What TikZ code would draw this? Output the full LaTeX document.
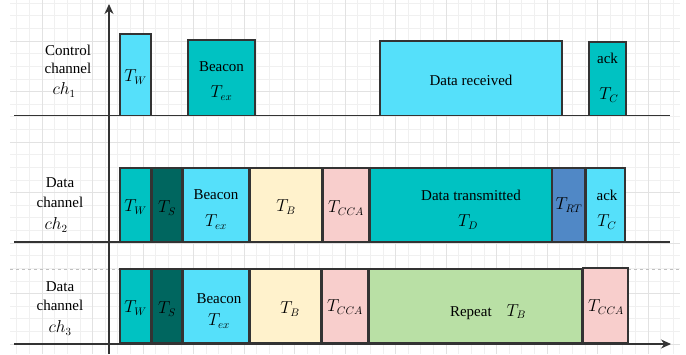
\documentclass[tikz,border=0pt]{standalone}
\usepackage{fontspec}
\setmainfont{Liberation Serif}
\usetikzlibrary{arrows.meta}
\definecolor{cyanL}{HTML}{55E0FA}
\definecolor{tealC}{HTML}{00C2C2}
\definecolor{darkT}{HTML}{00665F}
\definecolor{yelL}{HTML}{FFF2CC}
\definecolor{pinkL}{HTML}{F8CECC}
\definecolor{blueM}{HTML}{5088C6}
\definecolor{greenL}{HTML}{B9E0A5}
\definecolor{gridMinor}{HTML}{F0F0F0}
\definecolor{gridMajor}{HTML}{E2E2E2}
\newcommand\blk[6]{\node[blk, fill=#6, minimum width={#4-#2}, minimum height={#5-#3}] (#1) at ({(#2+#4)/2},{(#3+#5)/2}) {};}
\begin{document}
\begin{tikzpicture}[x=1pt,y=-1pt,
  font=\fontsize{15}{18}\selectfont,
  blk/.style={draw=black!80, line width=1.1pt, inner sep=0pt, outer sep=0pt},
  lbl/.style={inner sep=0pt, text=black},
  mlbl/.style={inner sep=0pt, text=black, font=\fontsize{16}{18}\selectfont},
  base/.style={draw=black!80, line width=1.1pt},
  gminor/.style={draw=gridMinor, line width=0.6pt},
  gmajor/.style={draw=gridMajor, line width=0.7pt}]
\useasboundingbox (0,0) rectangle (686,354);
% grid
\foreach \k in {-2,...,50} {
  \pgfmathsetmacro\xx{42+12.625*\k}
  \draw[gminor] (\xx,0) -- (\xx,354);
}
\foreach \k in {-3,...,24} {
  \pgfmathsetmacro\yy{41+12.625*\k}
  \draw[gminor] (10,\yy) -- (680,\yy);
}
\foreach \k in {0,...,12} {
  \pgfmathsetmacro\xx{42+50.5*\k}
  \draw[gmajor] (\xx,0) -- (\xx,354);
}
\foreach \k in {-1,...,6} {
  \pgfmathsetmacro\yy{41+50.5*\k}
  \draw[gmajor] (10,\yy) -- (680,\yy);
}
\coordinate (dl) at (10,269);
\coordinate (dr) at (680,269);
\draw[draw=black!25, dashed, line width=0.7pt] (dl) -- (dr);
% baselines
\coordinate (b1l) at (14,115.5); \coordinate (b1r) at (670,115.5);
\coordinate (b2l) at (14,242);   \coordinate (b2r) at (670,242);
\coordinate (b3l) at (14,344);   \coordinate (b3r) at (671,344);
\draw[base] (b1l) -- (b1r);
\draw[base] (b2l) -- (b2r);
\draw[base, -{Stealth[length=10pt,width=9pt]}] (b3l) -- (b3r);
\coordinate (yb) at (109,354); \coordinate (yt) at (109,4);
\draw[base, -{Stealth[length=10pt,width=9pt]}] (yb) -- (yt);
% channel 1
\blk{w1}{120}{34}{151}{115.5}{cyanL}
\blk{bc1}{188}{40}{255}{115.5}{tealC}
\blk{dr1}{380}{41}{562}{115.5}{cyanL}
\blk{ack1}{589}{42}{626}{115.5}{tealC}
\node[mlbl] (w1t) at (135.5,77) {$T_W$};
\node[lbl] (bc1a) at (221.5,67) {Beacon};
\node[mlbl] (bc1b) at (221.5,93) {$T_{ex}$};
\node[lbl] (dr1t) at (471,80) {Data received};
\node[lbl] (ack1a) at (607.5,58) {ack};
\node[mlbl] (ack1b) at (609,95) {$T_C$};
% channel 2
\blk{w2}{120}{168}{151}{242}{tealC}
\blk{s2}{152}{168}{182}{242}{darkT}
\blk{bc2}{183}{168}{249}{242}{cyanL}
\blk{b2}{250}{168}{322}{242}{yelL}
\blk{cca2}{323}{168}{369}{242}{pinkL}
\blk{d2}{370}{168}{552}{242}{tealC}
\blk{rt2}{552}{168}{585}{242}{blueM}
\blk{ack2}{586}{168}{625}{242}{cyanL}
\node[mlbl] (w2t) at (135.5,207) {$T_W$};
\node[mlbl] (s2t) at (167,208) {$T_S$};
\node[lbl] (bc2a) at (216,195) {Beacon};
\node[mlbl] (bc2b) at (216,222) {$T_{ex}$};
\node[mlbl] (b2t) at (286,207) {$T_B$};
\node[mlbl] (cca2t) at (346,208) {$T_{CCA}$};
\node[lbl] (d2a) at (471,195) {Data transmitted};
\node[mlbl] (d2b) at (468,222) {$T_D$};
\node[mlbl] (rt2t) at (569,205) {$T_{RT}$};
\node[lbl] (ack2a) at (607,195) {ack};
\node[mlbl] (ack2b) at (607,222) {$T_C$};
% channel 3
\blk{w3}{120}{269}{151}{343}{tealC}
\blk{s3}{152}{269}{182}{343}{darkT}
\blk{bc3}{183}{269}{249}{343}{cyanL}
\blk{b3}{250}{269}{321}{343}{yelL}
\blk{cca3}{322}{269}{368}{343}{pinkL}
\blk{rp3}{369}{269}{582}{343}{greenL}
\blk{ccb3}{583}{268}{628}{343}{pinkL}
\node[mlbl] (w3t) at (135.5,308) {$T_W$};
\node[mlbl] (s3t) at (167,309) {$T_S$};
\node[lbl] (bc3a) at (219,299) {Beacon};
\node[mlbl] (bc3b) at (219,321) {$T_{ex}$};
\node[mlbl] (b3t) at (290,309) {$T_B$};
\node[mlbl] (cca3t) at (345,307) {$T_{CCA}$};
\node[lbl] (rp3t) at (488,312) {Repeat\quad{\fontsize{16}{18}\selectfont$T_B$}};
\node[mlbl] (ccb3t) at (606,307) {$T_{CCA}$};
% channel labels
\node[lbl] (c1a) at (68,50) {Control};
\node[lbl] (c1b) at (68,68) {channel};
\node[mlbl] (c1c) at (64,90) {$ch_1$};
\node[lbl] (c2a) at (60,183) {Data};
\node[lbl] (c2b) at (60,202) {channel};
\node[mlbl] (c2c) at (56,225) {$ch_2$};
\node[lbl] (c3a) at (60,287) {Data};
\node[lbl] (c3b) at (60,305) {channel};
\node[mlbl] (c3c) at (60,328) {$ch_3$};
\end{tikzpicture}
\end{document}
